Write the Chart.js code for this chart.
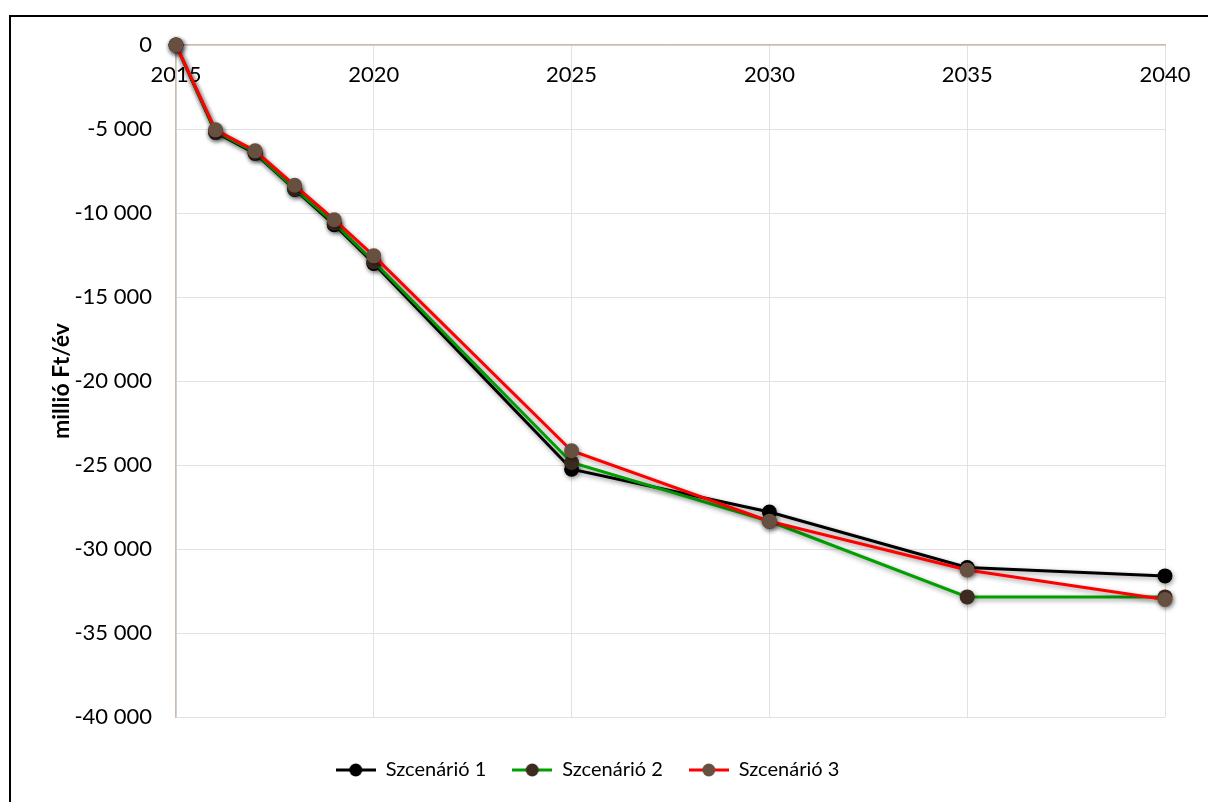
<!DOCTYPE html>
<html>
<head>
<meta charset="utf-8">
<script src="https://cdn.jsdelivr.net/npm/chart.js@4/dist/chart.umd.min.js"></script>
<style>
  html, body { margin: 0; padding: 0; background: #fff; overflow: hidden; }
  #wrap { position: relative; width: 1208px; height: 802px; }
  #frame { position: absolute; left: 9px; top: 15px; width: 1300px; height: 900px;
           border: 2px solid #000; pointer-events: none; }
  canvas { position: absolute; left: 0; top: 0; }
</style>
</head>
<body>
<div id="wrap">
  <canvas id="c" width="1208" height="802"></canvas>
  <div id="frame"></div>
</div>
<script>
// Years on the horizontal axis
const years = [2015, 2016, 2017, 2018, 2019, 2020, 2025, 2030, 2035, 2040];

// Annual change, million Ft per year
const szcenario1 = [0, -5200, -6450, -8600, -10700, -13000, -25250, -27800, -31100, -31600];
const szcenario2 = [0, -5150, -6400, -8550, -10600, -12900, -24850, -28350, -32850, -32850];
const szcenario3 = [0, -5050, -6300, -8350, -10400, -12550, -24150, -28350, -31250, -33000];

const seriesNames = ['Szcenárió 1', 'Szcenárió 2', 'Szcenárió 3'];
const yAxisTitle = 'millió Ft/év';

const lineColors = ['#000000', '#00a000', '#ff0000'];
const markerColors = ['#000000', '#3d2b1f', '#67503f'];

// Legend symbol: short line with a round marker in the middle
function legendSymbol(lineColor, markerColor) {
  const c = document.createElement('canvas');
  c.width = 40; c.height = 16;
  const g = c.getContext('2d');
  g.strokeStyle = lineColor; g.lineWidth = 3;
  g.beginPath(); g.moveTo(0, 8); g.lineTo(40, 8); g.stroke();
  g.fillStyle = markerColor;
  g.beginPath(); g.arc(20, 8, 6.5, 0, Math.PI * 2); g.fill();
  return c;
}

function toPoints(values) {
  return years.map((x, i) => ({ x: x, y: values[i] }));
}

function fmtThousands(v) {
  const s = String(Math.abs(v)).replace(/\B(?=(\d{3})+(?!\d))/g, ' ');
  return (v < 0 ? '-' : '') + s;
}

const allValues = [szcenario1, szcenario2, szcenario3];
const datasets = allValues.map((vals, i) => ({
  label: seriesNames[i],
  data: toPoints(vals),
  borderColor: lineColors[i],
  backgroundColor: markerColors[i],
  pointBackgroundColor: markerColors[i],
  pointBorderColor: markerColors[i],
  pointBorderWidth: 0,
  pointRadius: 7.5,
  pointHoverRadius: 7.5,
  borderWidth: 3,
  tension: 0,
  fill: false,
  clip: false,
  order: 2 - i,
  legendSymbol: legendSymbol(lineColors[i], markerColors[i])
}));

// Soft drop shadow under the lines and markers
const shadowPlugin = {
  id: 'seriesShadow',
  beforeDatasetsDraw(chart) {
    const ctx = chart.ctx;
    ctx.save();
    ctx.shadowColor = 'rgba(0,0,0,0.4)';
    ctx.shadowBlur = 5;
    ctx.shadowOffsetX = 1;
    ctx.shadowOffsetY = 2;
  },
  afterDatasetsDraw(chart) {
    chart.ctx.restore();
  }
};

const tickFont = { family: 'Lato', size: 22 };

new Chart(document.getElementById('c'), {
  type: 'line',
  data: { datasets: datasets },
  plugins: [shadowPlugin],
  options: {
    responsive: false,
    animation: false,
    events: [],
    layout: { padding: { left: 10, top: 45, right: 43, bottom: 12 } },
    plugins: {
      tooltip: { enabled: false },
      legend: {
        position: 'bottom',
        title: { display: true, text: '', font: { size: 10 }, padding: { top: 5, bottom: 0 } },
        labels: {
          usePointStyle: true,
          pointStyleWidth: 40,
          padding: 26,
          color: '#000',
          font: { family: 'Lato', size: 20 },
          generateLabels(chart) {
            return chart.data.datasets.map((ds, i) => ({
              text: ds.label,
              pointStyle: ds.legendSymbol,
              fillStyle: ds.backgroundColor,
              strokeStyle: ds.borderColor,
              fontColor: '#000',
              lineWidth: 0,
              hidden: false,
              datasetIndex: i
            }));
          }
        }
      }
    },
    scales: {
      x: {
        type: 'linear',
        position: { y: 0 },
        min: 2015,
        max: 2040,
        ticks: {
          stepSize: 5,
          padding: 17,
          color: '#000',
          font: tickFont,
          maxRotation: 0,
          callback: v => String(v)
        },
        grid: { color: '#e2e2e2', lineWidth: 1, drawTicks: false },
        border: { color: '#c9bdb1', width: 1.5 }
      },
      y: {
        type: 'linear',
        position: 'left',
        min: -40000,
        max: 0,
        afterFit(scale) { scale.width = 166; },
        ticks: {
          stepSize: 5000,
          padding: 24,
          color: '#000',
          font: tickFont,
          callback: v => fmtThousands(v)
        },
        grid: { color: '#e2e2e2', lineWidth: 1, drawTicks: false },
        border: { color: '#c9bdb1', width: 1.5 },
        title: {
          display: true,
          text: yAxisTitle,
          color: '#000',
          font: { family: 'Lato', size: 23, weight: 'bold' },
          padding: { top: 38, bottom: 0 }
        }
      }
    }
  }
});
</script>
</body>
</html>
